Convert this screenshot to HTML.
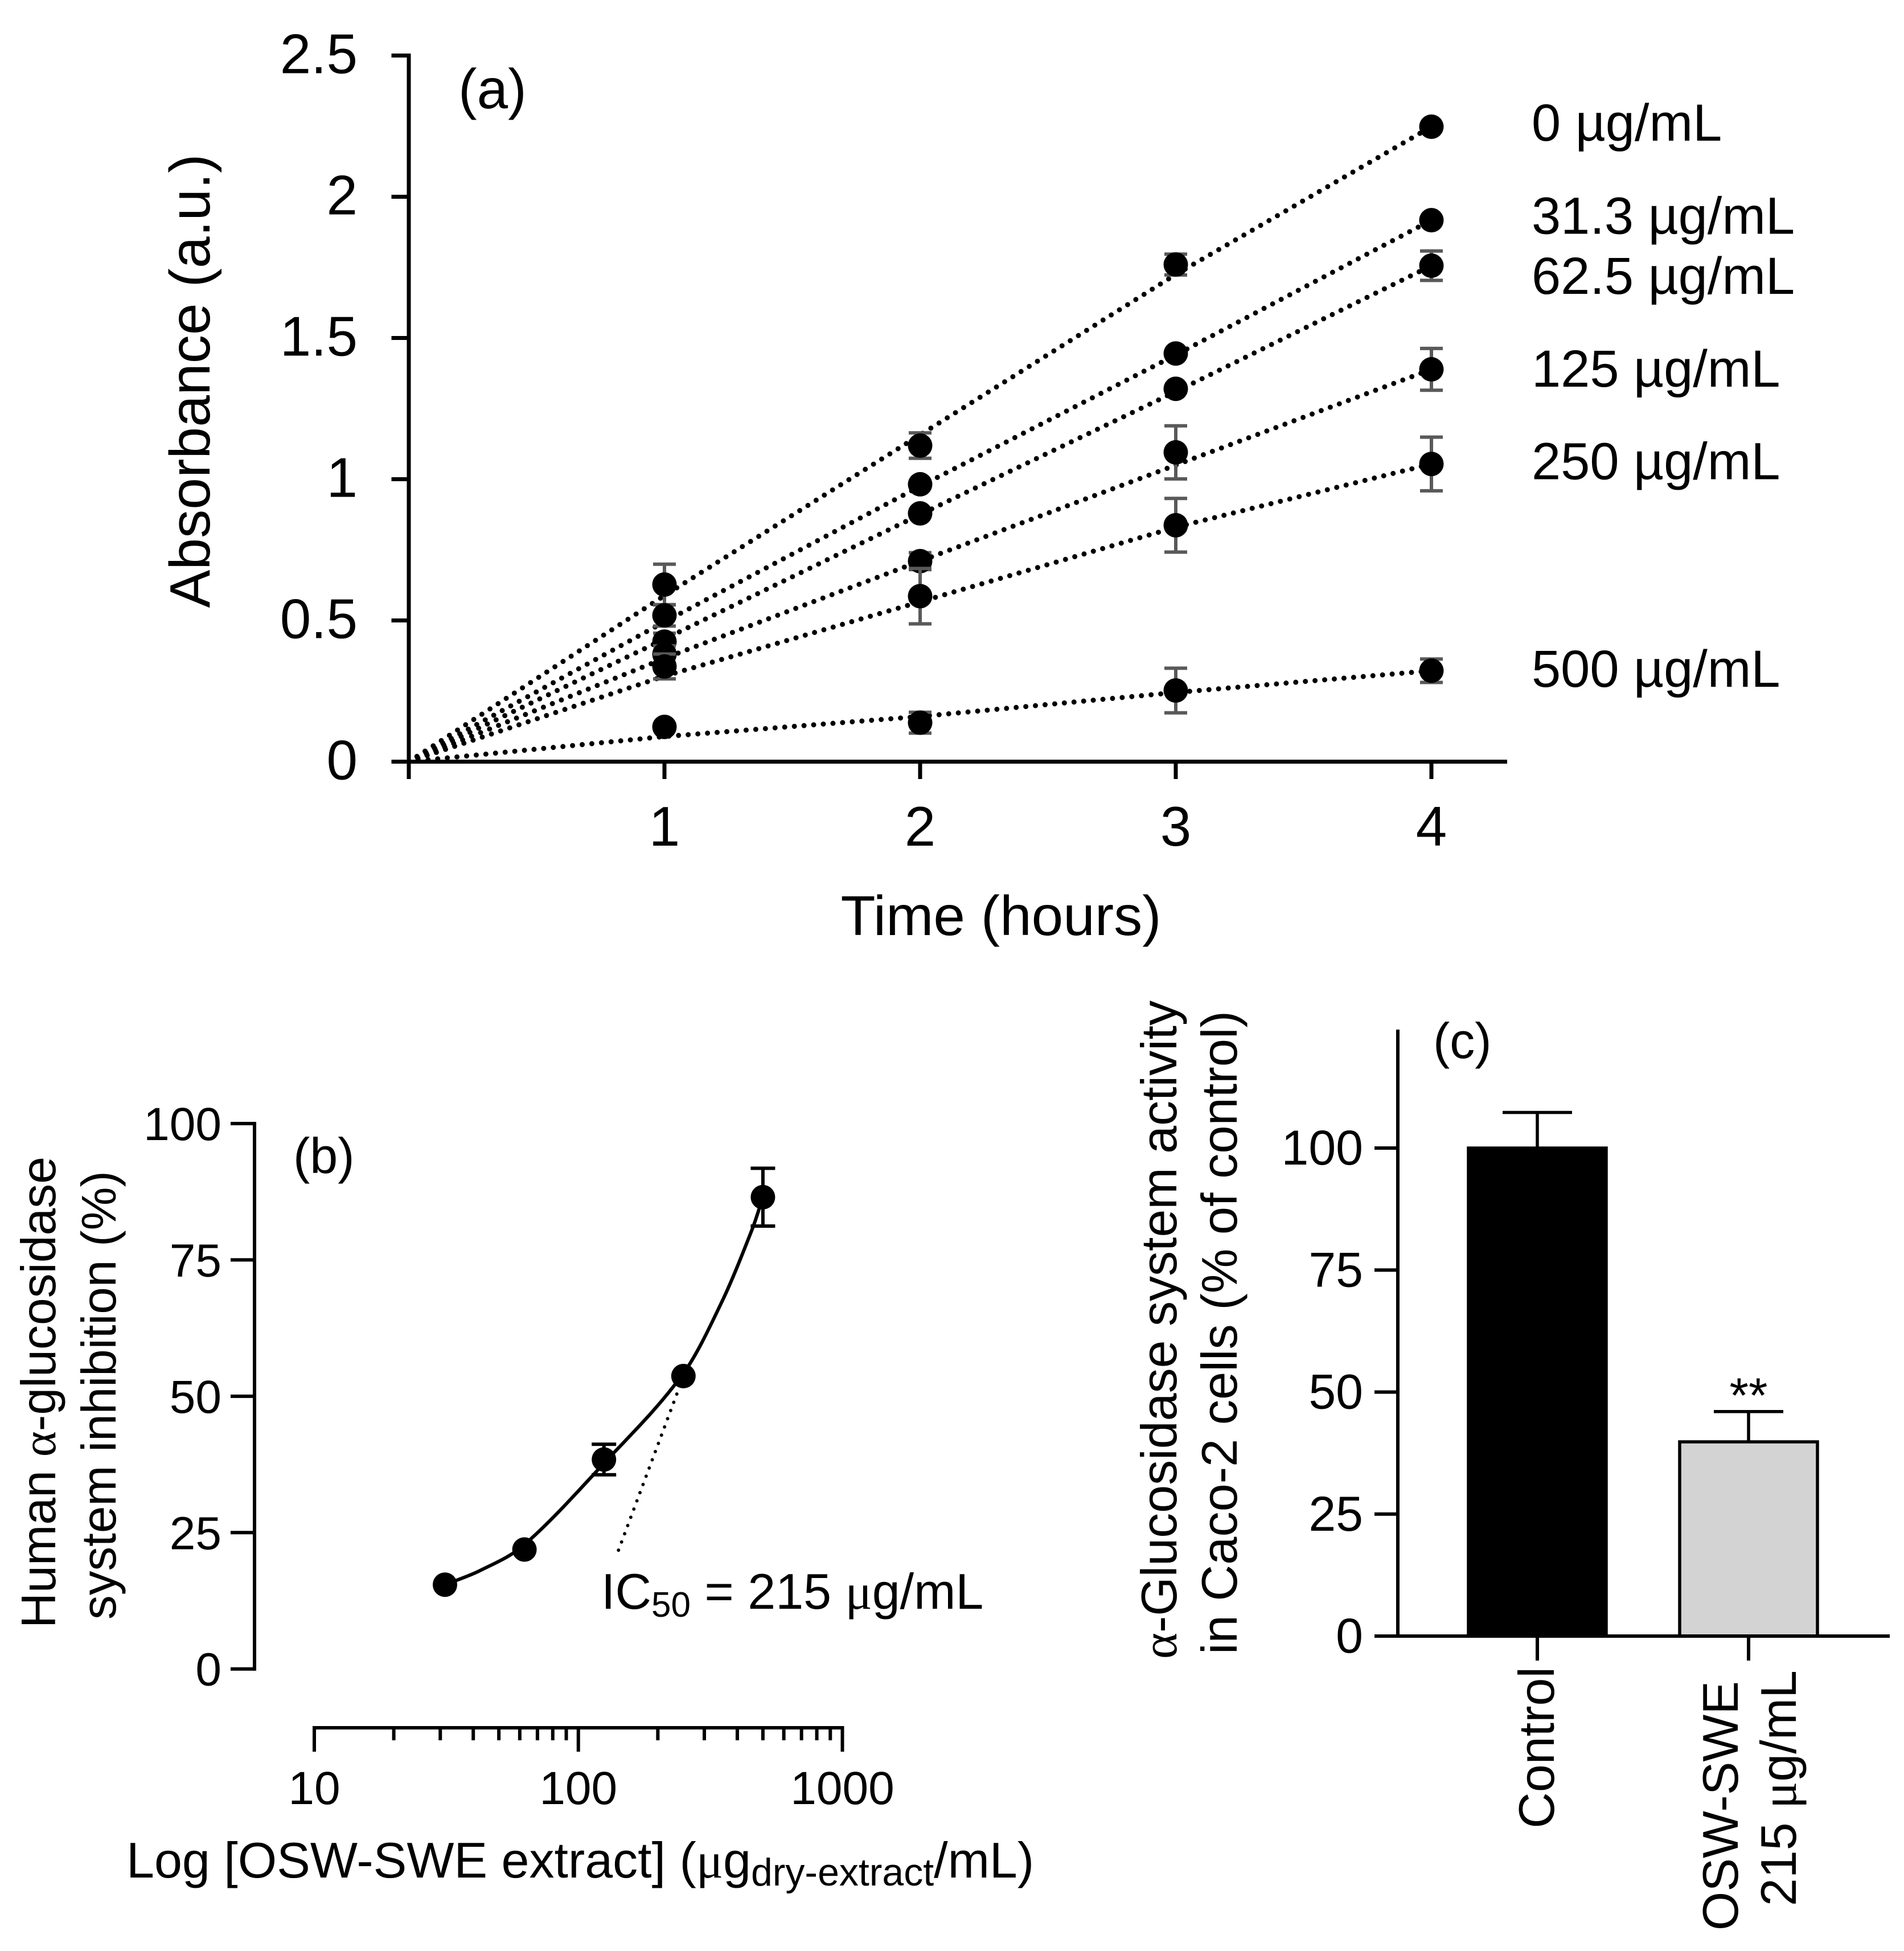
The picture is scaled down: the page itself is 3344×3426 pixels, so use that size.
<!DOCTYPE html>
<html lang="en">
<head>
<meta charset="utf-8">
<title>α-Glucosidase inhibition figure</title>
<style>
html,body{margin:0;padding:0;background:#fff;}
svg{display:block;}
text{font-family:"Liberation Sans",Arial,sans-serif;fill:#000;}
.sym{font-family:"Liberation Serif","DejaVu Serif",serif;}
</style>
</head>
<body>
<svg id="figure" xmlns="http://www.w3.org/2000/svg" width="3344" height="3426" viewBox="0 0 3344 3426">
<rect x="0" y="0" width="3344" height="3426" fill="#fff"/>

<g id="panel-a">
<text x="805" y="190" font-size="98">(a)</text>
<text transform="translate(368,669) rotate(-90)" text-anchor="middle" font-size="100" textLength="797" lengthAdjust="spacingAndGlyphs">Absorbance (a.u.)</text>
<text x="1758" y="1642" text-anchor="middle" font-size="98" textLength="563" lengthAdjust="spacingAndGlyphs">Time (hours)</text>
</g>

<g id="panel-b">
<text x="515" y="2060" font-size="88">(b)</text>
<text transform="translate(97,2445) rotate(-90)" text-anchor="middle" font-size="85" textLength="828" lengthAdjust="spacingAndGlyphs">Human <tspan class="sym">α</tspan>-glucosidase</text>
<text transform="translate(203,2450) rotate(-90)" text-anchor="middle" font-size="85" textLength="788" lengthAdjust="spacingAndGlyphs">system inhibition (%)</text>
<text x="222" y="3297" font-size="88">Log [OSW-SWE extract] (<tspan class="sym">μ</tspan>g<tspan font-size="68" dy="14">dry-extract</tspan><tspan dy="-14">/mL)</tspan></text>
<text x="1056" y="2825" font-size="88">IC<tspan font-size="62" dy="14">50</tspan><tspan dy="-14"> = 215 </tspan><tspan class="sym">μ</tspan>g/mL</text>
</g>

<g id="panel-c">
<text x="2517" y="1858" font-size="88">(c)</text>
<text transform="translate(2066,2335) rotate(-90)" text-anchor="middle" font-size="88"><tspan class="sym">α</tspan>-Glucosidase system activity</text>
<text transform="translate(2172,2340) rotate(-90)" text-anchor="middle" font-size="88" textLength="1130" lengthAdjust="spacingAndGlyphs">in Caco-2 cells (% of control)</text>
<text transform="translate(2729,2927) rotate(-90)" text-anchor="end" font-size="88">Control</text>
<text transform="translate(3052,2952) rotate(-90)" text-anchor="end" font-size="88" textLength="438" lengthAdjust="spacingAndGlyphs">OSW-SWE</text>
<text transform="translate(3154,2933) rotate(-90)" text-anchor="end" font-size="88">215 <tspan class="sym">μ</tspan>g/mL</text>
<text x="3071" y="2480" text-anchor="middle" font-size="86">**</text>
</g>
</svg>

<script>
// ---------- Panel (a) data ----------
const hours = [1, 2, 3, 4];
const doseLabels = ["0 µg/mL", "31.3 µg/mL", "62.5 µg/mL", "125 µg/mL", "250 µg/mL", "500 µg/mL"];
const doseLabelValues = [2.259, 1.929, 1.717, 1.388, 1.06, 0.326];
const absMeans = [
  [0.627, 1.119, 1.76, 2.248],
  [0.518, 0.982, 1.445, 1.917],
  [0.425, 0.879, 1.32, 1.756],
  [0.38, 0.71, 1.095, 1.389],
  [0.337, 0.586, 0.837, 1.054],
  [0.123, 0.138, 0.252, 0.322]
];
const absErrors = [
  [0.072, 0.045, 0.037, 0],
  [0.038, 0, 0, 0],
  [0.03, 0, 0, 0.052],
  [0.03, 0.03, 0.094, 0.074],
  [0.044, 0.098, 0.095, 0.095],
  [0, 0.037, 0.079, 0.0415]
];
const fitHours = [0, 1, 2, 3, 4];
const absFits = [
  [0, 0.588, 1.157, 1.725, 2.248],
  [0, 0.495, 0.975, 1.44, 1.917],
  [0, 0.434, 0.875, 1.31, 1.756],
  [0, 0.366, 0.71, 1.05, 1.389],
  [0, 0.303, 0.566, 0.83, 1.054],
  [0, 0.089, 0.16, 0.245, 0.322]
];
const absTicks = [0, 0.5, 1, 1.5, 2, 2.5];
const absTickLabels = ["0", "0.5", "1", "1.5", "2", "2.5"];
const hourTicks = [0, 1, 2, 3, 4];
const hourTickLabels = ["", "1", "2", "3", "4"];

// ---------- Panel (b) data ----------
const concs = [31.25, 62.5, 125, 250, 500];
const inhibMeans = [15.45, 21.9, 38.4, 53.7, 86.5];
const inhibErrors = [0, 0, 2.8, 0, 5.3];
const curveConcs = [31.25, 42.5, 62.5, 125, 250, 351, 456, 500];
const curveInhib = [15.45, 18.05, 22.8, 37.7, 54.2, 67.5, 80.7, 86.5];
const ic50PointerConcs = [236, 139];
const ic50PointerInhib = [50.4, 20.6];
const inhibTicks = [0, 25, 50, 75, 100];
const inhibTickLabels = ["0", "25", "50", "75", "100"];
const concMajorTicks = [10, 100, 1000];
const concTickLabels = ["10", "100", "1000"];
const concMinorTicks = [20, 30, 40, 50, 60, 70, 80, 90, 200, 300, 400, 500, 600, 700, 800, 900];

// ---------- Panel (c) data ----------
const barNames = ["control", "osw-swe"];
const barValues = [100, 39.8];
const barErrors = [7.3, 6.2];
const barFills = ["#000000", "#d3d3d3"];
const activityTicks = [0, 25, 50, 75, 100];
const activityTickLabels = ["0", "25", "50", "75", "100"];

// ---------- Axis functions ----------
const xA = t => 718 + 449 * t;
const yA = v => 1337.5 - 496 * v;
const xB = c => 552 + 463.75 * (Math.log10(c) - 1);
const yB = p => 2930.7 - 9.577 * p;
const xC = i => 2700 + 371 * i;
const yC = v => 2873 - 8.57 * v;

const NS = "http://www.w3.org/2000/svg";
const pa = document.getElementById("panel-a");
const pb = document.getElementById("panel-b");
const pc = document.getElementById("panel-c");

function add(parent, tag, props) {
  const el = document.createElementNS(NS, tag);
  for (const k in props) el.setAttribute(k, props[k]);
  parent.appendChild(el);
  return el;
}
function lineProps(x1, y1, x2, y2, w, col) {
  return { x1: x1, y1: y1, x2: x2, y2: y2, stroke: col || "#000", "stroke-width": w };
}

// ---------- Panel (a) axes ----------
let el;
el = add(pa, "line", lineProps(xA(0), yA(2.5) - 3.5, xA(0), 1368, 7));


el = add(pa, "line", lineProps(687.5, yA(0), 2647, yA(0), 7));


absTicks.forEach((v, i) => {
  let t = add(pa, "line", lineProps(687.5, yA(v), xA(0), yA(v), 7));
  
  
  let l = add(pa, "text", { x: 628, y: yA(v) + 31, "text-anchor": "end", "font-size": 98 });
  l.textContent = absTickLabels[i];
  
  
});
hourTicks.forEach((h, i) => {
  let t = add(pa, "line", lineProps(xA(h), yA(0), xA(h), 1368, 7));
  
  
  let l = add(pa, "text", { x: xA(h), y: 1485, "text-anchor": "middle", "font-size": 98 });
  l.textContent = hourTickLabels[i];
  
  
});

// ---------- Panel (a) series ----------
absFits.forEach(fit => {
  const pts = fit.map((v, i) => xA(fitHours[i]) + "," + yA(v)).join(" ");
  let ln = add(pa, "polyline", { points: pts, fill: "none", stroke: "#000", "stroke-width": 9, "stroke-dasharray": "0 17", "stroke-linecap": "round" });
  
  
});
absMeans.forEach((series, s) => {
  series.forEach((v, i) => {
    const e = absErrors[s][i];
    const cx = xA(hours[i]);
    if (e > 0) {
      const d = "M" + cx + " " + yA(v + e) + "V" + yA(v - e) + "M" + (cx - 20) + " " + yA(v + e) + "H" + (cx + 20) + "M" + (cx - 20) + " " + yA(v - e) + "H" + (cx + 20);
      let b = add(pa, "path", { d: d, fill: "none", stroke: "#595959", "stroke-width": 6 });
      
      
    }
    let m = add(pa, "circle", { cx: cx, cy: yA(v), r: 21.5, fill: "#000" });
    
    
  });
});
doseLabels.forEach((txt, i) => {
  let l = add(pa, "text", { x: 2690, y: yA(doseLabelValues[i]) + 30, "font-size": 92 });
  l.textContent = txt;
  
  
});

// ---------- Panel (b) axes ----------
el = add(pb, "line", lineProps(447, yB(100) - 3, 447, yB(0) + 3, 6));


inhibTicks.forEach((v, i) => {
  let t = add(pb, "line", lineProps(405, yB(v), 447, yB(v), 6));
  
  
  let l = add(pb, "text", { x: 389, y: yB(v) + 29, "text-anchor": "end", "font-size": 82 });
  l.textContent = inhibTickLabels[i];
  
  
});
el = add(pb, "line", lineProps(xB(10) - 3, 3034, xB(1000) + 3, 3034, 6));


concMajorTicks.forEach((c, i) => {
  let t = add(pb, "line", lineProps(xB(c), 3034, xB(c), 3076, 6));
  
  
  let l = add(pb, "text", { x: xB(c), y: 3168, "text-anchor": "middle", "font-size": 82 });
  l.textContent = concTickLabels[i];
  
  
});
concMinorTicks.forEach(c => {
  let t = add(pb, "line", lineProps(xB(c), 3034, xB(c), 3056, 6));
  
  
});

// ---------- Panel (b) series ----------
function smoothPath(px, py) {
  let d = "M" + px[0] + " " + py[0];
  for (let i = 0; i < px.length - 1; i++) {
    const x0 = px[Math.max(i - 1, 0)], y0 = py[Math.max(i - 1, 0)];
    const x3 = px[Math.min(i + 2, px.length - 1)], y3 = py[Math.min(i + 2, px.length - 1)];
    const h = px[i + 1] - px[i];
    const m1 = (py[i + 1] - y0) / (px[i + 1] - x0);
    const m2 = (y3 - py[i]) / (x3 - px[i]);
    d += "C" + (px[i] + h / 3) + " " + (py[i] + m1 * h / 3) + " " +
         (px[i + 1] - h / 3) + " " + (py[i + 1] - m2 * h / 3) + " " + px[i + 1] + " " + py[i + 1];
  }
  return d;
}
el = add(pb, "path", { d: smoothPath(curveConcs.map(xB), curveInhib.map(yB)), fill: "none", stroke: "#000", "stroke-width": 6 });


el = add(pb, "line", Object.assign(lineProps(xB(ic50PointerConcs[0]), yB(ic50PointerInhib[0]), xB(ic50PointerConcs[1]), yB(ic50PointerInhib[1]), 6), { "stroke-dasharray": "0 15.4", "stroke-linecap": "round" }));


concs.forEach((c, i) => {
  const cx = xB(c), v = inhibMeans[i], e = inhibErrors[i];
  if (e > 0) {
    const d = "M" + cx + " " + yB(v + e) + "V" + yB(v - e) + "M" + (cx - 21.5) + " " + yB(v + e) + "H" + (cx + 21.5) + "M" + (cx - 21.5) + " " + yB(v - e) + "H" + (cx + 21.5);
    let b = add(pb, "path", { d: d, fill: "none", stroke: "#000", "stroke-width": 6 });
    
    
  }
  let m = add(pb, "circle", { cx: cx, cy: yB(v), r: 21.5, fill: "#000" });
  
  
});

// ---------- Panel (c) ----------
barValues.forEach((v, i) => {
  const cx = xC(i), e = barErrors[i];
  const d = "M" + cx + " " + yC(v) + "V" + yC(v + e) + "M" + (cx - 61) + " " + yC(v + e) + "H" + (cx + 61);
  let b = add(pc, "path", { d: d, fill: "none", stroke: "#000", "stroke-width": 5.5 });
  
  
  let r = add(pc, "rect", { x: cx - 121, y: yC(v), width: 242, height: yC(0) - yC(v), fill: barFills[i], stroke: "#000", "stroke-width": 5.5 });
  
  
  let t = add(pc, "line", lineProps(cx, yC(0), cx, 2916, 6));
  
  
});
el = add(pc, "line", lineProps(2455, 1808, 2455, yC(0) + 3, 6));


el = add(pc, "line", lineProps(2414, yC(0), 3319, yC(0), 6));


activityTicks.forEach((v, i) => {
  let t = add(pc, "line", lineProps(2414, yC(v), 2455, yC(v), 6));
  
  
  let l = add(pc, "text", { x: 2394, y: yC(v) + 29, "text-anchor": "end", "font-size": 86 });
  l.textContent = activityTickLabels[i];
  
  
});
</script>
</body>
</html>
